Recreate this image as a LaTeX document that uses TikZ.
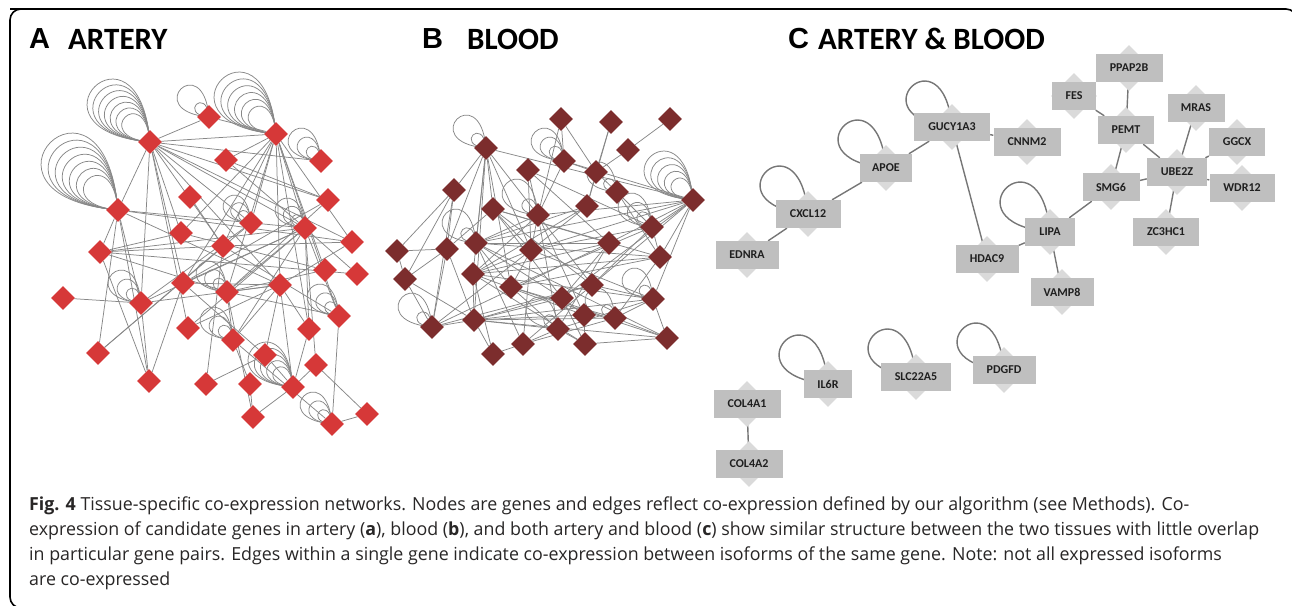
\documentclass[tikz,border=0pt]{standalone}
\usepackage{fontspec}
\setmainfont{Open Sans}
\newfontfamily\titA{Liberation Sans}
\newfontfamily\titB{Carlito}
\newfontfamily\capfont{Open Sans}
\usetikzlibrary{shapes.geometric}
\pgfdeclarelayer{bg}
\pgfsetlayers{bg,main}
\definecolor{ared}{RGB}{214,56,56}
\definecolor{bred}{RGB}{124,45,45}
\definecolor{edgeg}{RGB}{135,135,135}
\definecolor{rectg}{RGB}{191,191,191}
\definecolor{diag}{RGB}{218,218,218}
\definecolor{cedge}{RGB}{118,118,118}
\definecolor{captxt}{RGB}{40,38,38}
\newlength\capw
\newcommand\capA{\textbf{Fig. 4} Tissue-specific co-expression networks. Nodes are genes and edges reflect co-expression defined by our algorithm (see Methods). Co-}
\newcommand\capB{expression of candidate genes in artery (\textbf{a}), blood (\textbf{b}), and both artery and blood (\textbf{c}) show similar structure between the two tissues with little overlap}
\newcommand\capC{in particular gene pairs. Edges within a single gene indicate co-expression between isoforms of the same gene. Note: not all expressed isoforms}
\newcommand\capD{are co-expressed}
\newcommand\capsize{\fontsize{18}{22}\selectfont}
\AtBeginDocument{%
  \settowidth\capw{\capfont\capsize\capB}%
  \pgfmathsetmacro\capscale{1230/\capw}%
}
\newcommand\gloops[4]{% node, count, extent, style
  \foreach \j in {1,...,#2}{%
    \pgfmathsetmacro\LL{2.16*#3*(0.45+0.55*(\j-1)/max(#2-1,1))}%
    \draw[#4] (#1.center) .. controls +(265:\LL) and +(185:\LL) .. (#1.center);
  }}
\tikzset{
  adia/.style={diamond, fill=ared, inner sep=0pt, minimum size=24pt},
  bdia/.style={diamond, fill=bred, inner sep=0pt, minimum size=24pt},
  aedge/.style={draw=edgeg, line width=0.75pt},
  gdia/.style={diamond, fill=diag, inner sep=0pt, minimum size=46pt},
  gene/.style={rectangle, fill=rectg, minimum height=28pt, inner xsep=2pt, inner ysep=0pt,
     font=\titB\bfseries\fontsize{12}{12}\selectfont, text=black!88},
  cedgest/.style={draw=cedge, line width=1.4pt},
  ttlA/.style={anchor=base west, inner sep=0pt, font=\titA\bfseries\fontsize{29}{30}\selectfont},
  ttlB/.style={anchor=base west, inner sep=0pt, font=\titB\bfseries\fontsize{31}{32}\selectfont},
  capline/.style={anchor=base west, inner sep=0pt, text=captxt}
}
\begin{document}
\begin{tikzpicture}[x=1pt,y=-1pt]
\useasboundingbox (0,0) rectangle (1292,605);
% frame
\draw[line width=1.6pt] (10,9) -- (1286,9) arc[start angle=90,end angle=0,radius=11pt] -- (1297,608);
\draw[line width=1.6pt, rounded corners=11pt] (1286,9) -- (10,9) -- (10,608) -- (40,608);

% titles
\node[ttlA] (tA) at (29,48) {A};
\node[ttlB] (tA2) at (68,49) {ARTERY};
\node[ttlA] (tB) at (422,48) {B};
\node[ttlB] (tB2) at (467,49) {BLOOD};
\node[ttlA] (tC) at (788,48) {C};
\node[ttlB] (tC2) at (818,49) {ARTERY \& BLOOD};

% ---------------- panel A ----------------
\foreach \n/\x/\y in {a1/150/142, a2/209/117, a3/276/134, a4/226/160, a5/321/161,
  a6/118/210, a7/190/197, a8/328/200, a9/181/233, a10/251/223, a11/305/228,
  a12/352/242, a13/100/252, a14/223/246, a15/325/270, a16/357/274, a17/183/283,
  a18/227/292, a19/280/285, a20/63/298, a21/141/303, a22/339/316, a23/188/328,
  a24/309/329, a25/233/340, a26/98/353, a27/265/355, a28/316/365, a29/149/381,
  a30/206/384, a31/250/384, a32/293/387, a33/253/417, a34/367/414, a35/332/424}
  {\node[adia] (\n) at (\x,\y) {};}

\begin{pgfonlayer}{bg}
\foreach \s/\t in {a1/a2, a1/a3, a1/a5, a1/a6, a1/a9, a1/a10, a1/a11, a1/a12, a1/a17,
  a1/a21, a1/a8, a1/a19, a1/a14, a1/a23,
  a3/a4, a3/a9, a3/a10, a3/a11, a3/a14, a3/a17, a3/a18, a3/a19, a3/a12, a3/a15,
  a3/a22, a3/a24, a2/a3,
  a4/a8, a4/a11, a6/a13, a6/a21, a6/a26, a6/a12, a6/a19, a6/a29, a6/a11,
  a7/a14, a8/a17, a8/a18, a9/a15, a9/a13, a10/a21, a10/a26,
  a11/a13, a11/a17, a11/a18, a11/a21, a11/a22, a11/a24, a11/a25, a11/a23, a11/a28, a11/a16,
  a12/a19, a12/a14, a13/a14, a13/a18, a13/a16, a13/a29,
  a14/a26, a14/a30, a14/a22, a15/a18,
  a17/a19, a17/a29, a17/a27, a18/a19, a18/a25, a18/a22, a18/a33,
  a19/a21, a19/a23, a19/a25, a19/a24, a19/a27, a19/a32, a20/a21, a21/a29,
  a22/a35, a24/a32, a25/a31, a25/a35, a27/a30, a27/a32, a28/a32, a28/a34,
  a31/a33, a32/a33, a34/a35}
  {\draw[aedge] (\s) -- (\t);}
\foreach \n/\k/\E in {a1/7/63, a6/7/77, a2/2/32, a3/6/62, a5/3/33, a10/3/28, a11/3/30,
  a21/3/33, a18/3/31, a25/3/33, a22/3/32, a32/5/45, a35/3/32}
  {\gloops{\n}{\k}{\E}{aedge}}
\end{pgfonlayer}

% ---------------- panel B ----------------
\foreach \n/\x/\y in {b1/486/148, b2/561/119, b3/611/122, b4/670/119, b5/628/150,
  b6/564/161, b7/528/170, b8/596/172, b9/454/190, b10/617/192, b11/693/200,
  b12/493/209, b13/538/215, b14/587/206, b15/652/227, b16/397/251, b17/447/249,
  b18/476/243, b19/531/250, b20/609/243, b21/660/257, b22/405/279, b23/473/274,
  b24/511/287, b25/592/285, b26/562/298, b27/653/299, b28/584/315, b29/615/318,
  b30/432/327, b31/474/320, b32/558/329, b33/523/344, b34/585/344, b35/667/338,
  b36/493/354}
  {\node[bdia] (\n) at (\x,\y) {};}

\begin{pgfonlayer}{bg}
\foreach \s/\t in {b1/b9, b1/b12, b1/b17, b1/b18, b1/b23, b1/b11, b1/b13, b1/b24, b1/b19, b1/b31,
  b2/b6, b2/b13, b2/b8, b3/b14, b3/b8, b4/b5, b5/b8, b6/b8, b6/b11, b6/b13,
  b7/b13, b7/b15, b7/b19, b7/b20, b8/b10, b8/b14, b9/b16, b9/b17, b9/b22, b9/b30,
  b10/b15, b10/b21, b11/b15, b11/b21, b11/b20, b11/b25, b11/b19, b11/b18, b11/b13,
  b11/b26, b11/b27, b12/b17, b12/b19, b12/b20, b12/b21, b12/b25, b12/b26,
  b13/b18, b13/b19, b13/b25, b13/b28, b13/b23, b13/b32, b14/b18, b14/b19, b14/b23,
  b15/b19, b15/b21, b15/b24, b15/b25, b16/b17, b16/b22, b17/b22, b17/b30, b17/b31,
  b18/b20, b18/b21, b18/b24, b18/b26, b18/b33, b18/b35, b19/b23, b19/b24, b19/b27, b19/b33,
  b20/b23, b20/b26, b20/b30, b20/b32, b21/b23, b21/b24, b21/b29, b22/b30, b22/b31,
  b23/b27, b23/b28, b23/b31, b23/b34, b23/b36, b24/b29, b24/b32, b24/b35,
  b25/b30, b25/b31, b25/b33, b25/b27, b26/b28, b26/b31, b26/b34,
  b27/b29, b27/b31, b27/b32, b27/b35, b28/b31, b28/b34, b29/b31, b29/b33, b29/b35,
  b30/b31, b30/b19, b31/b32, b31/b36, b31/b35, b32/b33, b32/b34, b33/b36, b34/b35}
  {\draw[aedge] (\s) -- (\t);}
\foreach \n/\k/\E in {b1/2/33, b6/3/33, b11/5/49, b13/2/36, b10/2/30, b15/3/34,
  b18/2/34, b30/2/34, b32/2/32, b29/2/30, b27/2/31}
  {\gloops{\n}{\k}{\E}{aedge}}
\end{pgfonlayer}

% ---------------- panel C ----------------
\foreach \n/\x/\y/\w/\t in {gucy/952/127/76/GUCY1A3, apoe/886/168/52/APOE,
  cxcl/808/214/65/CXCL12, ednra/747/255/63/EDNRA, hdac/987/259/63/HDAC9,
  cnnm/1027/142/67/CNNM2, ppap/1129/68/67/PPAP2B, fes/1074/96/44/FES,
  pemt/1126/130/56/PEMT, mras/1196/108/57/MRAS, ggcx/1237/142/56/GGCX,
  ube/1177/172/60/UBE2Z, wdr/1242/188/65/WDR12, smg/1111/187/57/SMG6,
  lipa/1050/232/50/LIPA, zc/1166/232/66/ZC3HC1, vamp/1062/292/63/VAMP8,
  il6r/828/384/48/IL6R, slc/916/377/70/SLC22A5, pdgfd/1004/370/63/PDGFD,
  cola/747/404/67/COL4A1, colb/749/464/67/COL4A2}
  {\node[gdia] (\n-d) at (\x,\y) {};}
\foreach \n/\x/\y/\w/\t in {gucy/952/127/76/GUCY1A3, apoe/886/168/52/APOE,
  cxcl/808/214/65/CXCL12, ednra/747/255/63/EDNRA, hdac/987/259/63/HDAC9,
  cnnm/1027/142/67/CNNM2, ppap/1129/68/67/PPAP2B, fes/1074/96/44/FES,
  pemt/1126/130/56/PEMT, mras/1196/108/57/MRAS, ggcx/1237/142/56/GGCX,
  ube/1177/172/60/UBE2Z, wdr/1242/188/65/WDR12, smg/1111/187/57/SMG6,
  lipa/1050/232/50/LIPA, zc/1166/232/66/ZC3HC1, vamp/1062/292/63/VAMP8,
  il6r/828/384/48/IL6R, slc/916/377/70/SLC22A5, pdgfd/1004/370/63/PDGFD,
  cola/747/404/67/COL4A1, colb/749/464/67/COL4A2}
  {\node[gene, minimum width=\w pt] (\n) at (\x,\y) {\t};}

\begin{pgfonlayer}{bg}
\foreach \s/\t in {ednra/cxcl, cxcl/apoe, apoe/gucy, gucy/cnnm, gucy/hdac, hdac/lipa,
  lipa/vamp, lipa/smg, smg/pemt, smg/ube, pemt/ube, pemt/fes, pemt/ppap, ube/mras,
  ube/ggcx, ube/wdr, ube/zc, cola/colb}
  {\draw[cedgest] (\s) -- (\t);}
\foreach \n/\E in {gucy/46, apoe/48, cxcl/48, lipa/50, il6r/49, slc/48, pdgfd/47}
  {\gloops{\n}{1}{\E/0.45}{cedgest}}
\end{pgfonlayer}

% ---------------- caption ----------------
\node[capline] (c1) at (29,510) {\scalebox{\capscale}[1]{\capfont\capsize\capA}};
\node[capline] (c2) at (29,535) {\scalebox{\capscale}[1]{\capfont\capsize\capB}};
\node[capline] (c3) at (29,560) {\scalebox{\capscale}[1]{\capfont\capsize\capC}};
\node[capline] (c4) at (29,585) {\scalebox{\capscale}[1]{\capfont\capsize\capD}};
\end{tikzpicture}
\end{document}
